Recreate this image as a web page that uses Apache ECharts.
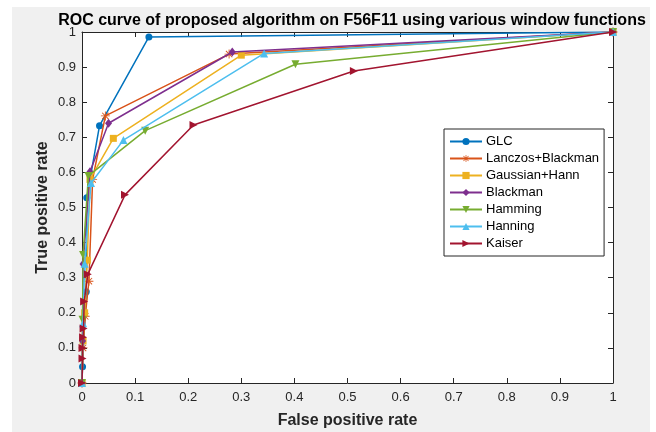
<!DOCTYPE html>
<html>
<head>
<meta charset="utf-8">
<script src="https://cdn.jsdelivr.net/npm/echarts@6/dist/echarts.min.js"></script>
<style>
html,body{margin:0;padding:0;background:#fff;}
#chart{width:656px;height:432px;}
</style>
</head>
<body>
<div id="chart"></div>
<script>
var seriesNames = ['GLC','Lanczos+Blackman','Gaussian+Hann','Blackman','Hamming','Hanning','Kaiser'];
var colors = ['#0072BD','#D95319','#EDB120','#7E2F8E','#77AC30','#4DBEEE','#A2142F'];
var tickLabels = ['0','0.1','0.2','0.3','0.4','0.5','0.6','0.7','0.8','0.9','1'];

var glc = [[0,0],[0.001,0.046],[0.008,0.26],[0.009,0.528],[0.033,0.733],[0.126,0.986],[1,1]];
var lanczos = [[0,0],[0.002,0.1],[0.006,0.19],[0.013,0.29],[0.02,0.58],[0.044,0.761],[0.277,0.937],[1,1]];
var gaussian = [[0,0],[0.002,0.12],[0.005,0.2],[0.01,0.35],[0.015,0.58],[0.059,0.697],[0.30,0.934],[1,1]];
var blackman = [[0,0],[0.001,0.12],[0.002,0.339],[0.015,0.602],[0.05,0.74],[0.283,0.943],[1,1]];
var hamming = [[0,0],[0.001,0.18],[0.002,0.365],[0.012,0.59],[0.119,0.719],[0.402,0.908],[1,1]];
var hanning = [[0,0],[0.002,0.17],[0.005,0.34],[0.017,0.57],[0.078,0.692],[0.343,0.939],[1,1]];
var kaiser = [[0,0],[0.001,0.07],[0.001,0.1],[0.002,0.13],[0.003,0.155],[0.004,0.232],[0.011,0.31],[0.081,0.536],[0.21,0.735],[0.512,0.889],[1,1]];

var dataSets = [glc, lanczos, gaussian, blackman, hamming, hanning, kaiser];
var starPath = 'path://M-1,-10L1,-10L1,10L-1,10Z M-10,-1L10,-1L10,1L-10,1Z M-6.36,-7.78L7.78,6.36L6.36,7.78L-7.78,-6.36Z M6.36,-7.78L7.78,-6.36L-6.36,7.78L-7.78,6.36Z';
var symbols = ['circle', starPath, 'rect', 'diamond', 'triangle', 'triangle', 'triangle'];
var symbolSizes = [7, 9, 7, [7,9], 8, 8, 8];
var symbolRotates = [0, 0, 0, 0, 180, 0, -90];

var chart = echarts.init(document.getElementById('chart'), null, {renderer:'canvas'});
var font = 'Liberation Sans, Arial, Helvetica, sans-serif';
var axisCol = '#262626';

function mkAxis(pos, showLabels, isX) {
  return {
    type:'value', min:0, max:1, interval:0.1, position:pos,
    axisLine:{show:true, onZero:false, lineStyle:{color:axisCol, width:1}},
    axisTick:{show:true, inside:true, length:5, lineStyle:{color:axisCol}},
    splitLine:{show:false},
    axisLabel:{show:showLabels, color:axisCol, fontSize:13, fontFamily:font, margin:isX?8:6,
      formatter:function(v){ var i=Math.round(v*10); return tickLabels[i]; }}
  };
}

var series = dataSets.map(function(d,i){
  return {
    name: seriesNames[i], type:'line', data:d,
    xAxisIndex:0, yAxisIndex:0,
    symbol: symbols[i], symbolSize: symbolSizes[i], symbolRotate: symbolRotates[i],
    showAllSymbol:true,
    lineStyle:{color:colors[i], width:1.5},
    itemStyle:{color:colors[i], borderWidth:0},
    emphasis:{disabled:true},
    animation:false, z:2+i
  };
});

chart.setOption({
  animation:false,
  graphic:[{type:'rect', shape:{x:12,y:7,width:638,height:425}, style:{fill:'#f0f0f0'}, z:-10, silent:true}],
  title:{text:'ROC curve of proposed algorithm on F56F11 using various window functions',
    left:347, top:8, textAlign:'center',
    textStyle:{fontSize:16, fontWeight:'bold', color:'#000', fontFamily:font}},
  grid:{left:82, right:43, top:32, bottom:49, show:true, backgroundColor:'#fff', borderWidth:0,
    containLabel:false, outerBoundsMode:'none'},
  xAxis:[
    Object.assign(mkAxis('bottom', true, true), {name:'False positive rate', nameLocation:'middle', nameGap:30,
      nameMoveOverlap:false,
      nameTextStyle:{fontSize:16, fontWeight:'bold', color:axisCol, fontFamily:font}}),
    mkAxis('top', false, true)
  ],
  yAxis:[
    Object.assign(mkAxis('left', true, false), {name:'True positive rate', nameLocation:'middle', nameGap:31,
      nameMoveOverlap:false,
      nameTextStyle:{fontSize:16, fontWeight:'bold', color:axisCol, fontFamily:font}}),
    mkAxis('right', false, false)
  ],
  legend:{
    orient:'vertical', left:444, top:129,
    data: seriesNames,
    itemWidth:32, itemHeight:9, itemGap:4,
    backgroundColor:'#fff', borderColor:'#262626', borderWidth:1, borderRadius:0,
    padding:[6,5,6,5],
    textStyle:{fontSize:13, color:'#000', fontFamily:font, padding:[0,0,0,-1]},
    selectedMode:false
  },
  series: series
});
</script>
</body>
</html>
